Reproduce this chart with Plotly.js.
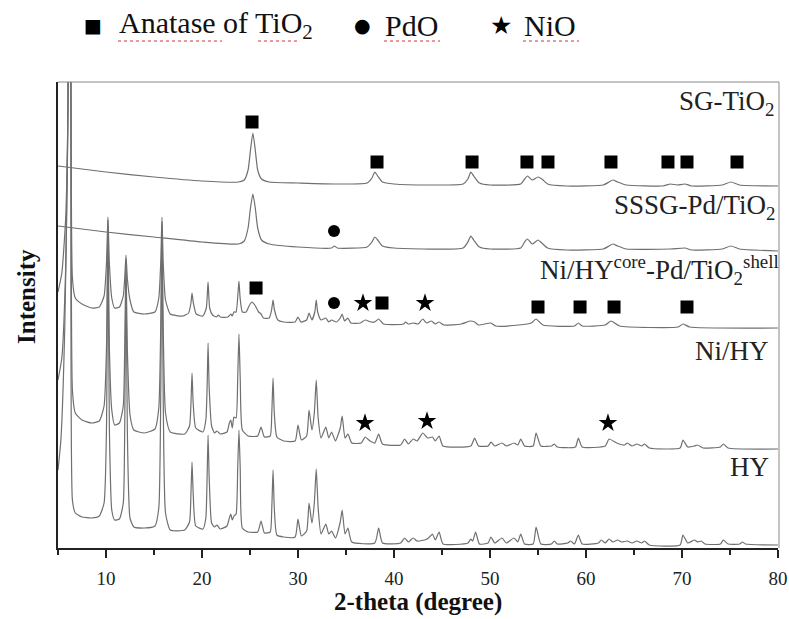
<!DOCTYPE html>
<html>
<head>
<meta charset="utf-8">
<script src="https://cdn.plot.ly/plotly-3.0.1.min.js"></script>
<style>html,body{margin:0;padding:0;background:#fff;}#chart{width:789px;height:619px;}</style>
</head>
<body>
<div id="chart"></div>
<script>
// ---- Data: 2-theta (degree) and intensity (a.u., stacked offsets) ----
const sgX = [5,10,15,20,23.8,24.4,24.8,25.05,25.3,25.55,25.8,26.2,27,30,34,37.2,37.7,38.0,38.3,38.8,40,44,47.2,47.7,48.0,48.3,48.9,50,53.2,53.6,53.9,54.4,55.0,55.4,56,58,61.8,62.4,62.8,63.3,64.2,68,68.8,69.5,70.3,71,74.2,75.1,76,80];
const sgY = [382,376,371,367,366,368,378,398,415,398,378,369,366,365,364,365,370,376,372,366,364,363,364,369,376,372,365,363,364,369,372,368,371,369,364,362,363,366,368,366,363,362,364,363,364,362,363,366,363,362];

const sssgX = [5,10,15,20,23.8,24.4,24.8,25.05,25.3,25.55,25.8,26.2,27,30,33.5,33.8,34.1,37.2,37.7,38.0,38.3,38.8,40,47.2,47.7,48.0,48.3,48.9,50,53.2,53.6,53.9,54.4,55.0,55.4,56,58,61.8,62.4,62.8,63.3,64.2,68.8,70.3,71,74.2,75.1,76,80];
const sssgY = [322,316,311,306,304,307,320,340,354,340,320,308,304,301,300,302,300,301,306,311,308,302,300,300,306,312,308,301,299,300,306,309,304,308,305,300,298,299,302,304,302,299,299,300,298,299,302,299,297];

const coreX = [5,5.4,5.8,6.05,6.2,6.35,6.5,6.8,7.5,8.5,9.3,9.8,10.05,10.2,10.35,10.6,10.9,11.4,11.8,11.95,12.08,12.22,12.5,12.9,14,15.1,15.5,15.7,15.83,15.96,16.2,16.7,18,18.6,18.85,18.96,19.1,19.4,20.1,20.45,20.63,20.8,21.1,21.5,21.7,21.9,22.7,23.0,23.15,23.33,23.55,23.75,23.85,23.97,24.2,24.6,24.9,25.2,25.5,25.9,26.15,26.4,27.0,27.25,27.4,27.55,27.9,28.5,29.7,30.0,30.3,30.9,31.15,31.45,31.75,31.9,32.05,32.4,32.9,33.2,33.5,34.0,34.4,34.6,34.85,35.2,35.5,36.5,37.0,37.6,38.0,38.4,38.9,41,41.2,41.5,42,42.5,43.0,43.4,43.9,44.3,44.7,45.2,47.0,47.6,47.9,48.4,48.8,50.1,50.6,53,54.3,54.8,55.5,58.8,59.2,59.6,62.0,62.6,63.5,69.6,70.1,70.8,80];
const coreY = [256,275,330,450,800,450,270,250,244,240,241,252,285,331,285,250,240,241,252,270,293,270,248,236,234,236,250,285,331,285,248,234,232,235,245,255,245,234,232,240,266,240,233,231,233,231,231,234,232,236,236,255,267,250,236,236,242,246,243,236,234,230,230,238,248,238,228,226,226,231,226,228,235,228,236,248,236,228,230,226,228,226,230,234,227,230,225,225,228,226,226,229,224,224,226,224,225,224,229,225,227,224,226,223,224,226,227,226,223,225,222,223,225,229,223,222,225,222,223,227,222,221,224,221,220];

const nihyX = [5,5.4,5.8,6.05,6.2,6.35,6.5,6.8,7.5,8.5,9.3,9.8,10.05,10.2,10.35,10.6,10.9,11.4,11.8,11.95,12.08,12.22,12.5,12.9,14,15.1,15.5,15.7,15.83,15.96,16.2,16.7,18.2,18.7,18.85,18.96,19.08,19.35,20.1,20.4,20.53,20.63,20.75,21.0,21.3,21.56,21.9,22.6,22.85,23.0,23.15,23.33,23.55,23.72,23.85,23.98,24.2,24.8,25.8,26.15,26.5,27.1,27.27,27.4,27.53,27.8,28.5,29.7,30.0,30.35,30.9,31.15,31.45,31.7,31.9,32.1,32.4,32.9,33.2,33.5,33.9,34.4,34.6,34.9,35.2,35.6,36.6,37.0,37.5,38.0,38.4,38.8,40.7,41.1,41.5,42.0,42.4,43.0,43.5,44.0,44.3,44.7,45.1,48.0,48.4,48.8,49.8,50.1,50.5,51.25,51.7,52.5,52.9,53.2,53.6,54.5,54.8,55.3,56.4,56.7,57.0,58.9,59.2,59.6,62.0,62.4,63.2,64.0,64.3,64.8,65.3,65.8,66.1,66.6,69.8,70.1,70.6,71.3,71.6,72.2,74.0,74.3,74.8,80];
const nihyY = [168,190,280,450,800,450,158,135,128,125,127,142,200,328,200,138,123,125,142,200,288,200,133,118,115,119,140,220,326,220,135,116,114,122,145,175,145,120,116,128,160,205,160,122,115,117,114,116,125,128,120,131,130,170,214,170,118,112,112,121,111,112,135,170,135,111,107,107,123,108,112,138,118,135,168,130,110,121,110,116,107,120,132,110,114,105,105,111,107,105,114,104,103,109,104,109,107,115,110,111,107,112,102,102,110,102,102,106,102,105,102,105,103,109,102,102,115,102,102,104,101,101,110,101,102,109,105,103,105,102,104,102,104,100,100,108,101,102,103,100,101,104,100,99];

const hyX = [5,5.3,5.7,6.0,6.2,6.35,6.5,6.8,7.5,8.5,9.3,9.8,10.05,10.2,10.35,10.6,10.9,11.4,11.8,11.95,12.08,12.22,12.5,12.9,14,15.1,15.5,15.7,15.83,15.96,16.2,16.7,18.2,18.7,18.85,18.96,19.08,19.35,20.1,20.4,20.53,20.63,20.75,21.0,21.3,21.56,21.9,22.6,22.85,23.0,23.15,23.33,23.55,23.72,23.85,23.98,24.2,24.8,25.8,26.15,26.5,27.1,27.27,27.4,27.53,27.8,28.5,29.7,30.0,30.35,30.9,31.15,31.45,31.7,31.9,32.1,32.4,32.9,33.2,33.5,33.9,34.4,34.6,34.9,35.2,35.6,38.0,38.4,38.8,40.7,41.1,41.5,42.0,42.4,43.2,43.6,44.0,44.3,44.7,45.1,47.7,48.0,48.2,48.5,48.9,49.8,50.1,50.5,51.25,51.7,52.5,52.9,53.2,53.6,54.5,54.8,55.3,56.4,56.7,57.0,58.1,58.4,58.8,59.2,59.6,61.3,61.6,62.0,62.4,62.8,63.3,63.7,64.3,64.8,65.3,65.8,66.1,66.6,69.8,70.1,70.6,71.3,71.6,72.0,72.4,74.0,74.3,74.8,76.0,76.3,76.6,80];
const hyY = [78,108,218,400,800,450,48,35,31,30,32,45,120,322,120,38,28,29,45,120,286,120,30,21,20,22,40,150,322,150,35,18,18,26,55,86,55,22,19,30,70,113,70,25,21,23,19,22,30,34,28,32,34,80,118,80,20,16,16,27,15,16,40,78,40,13,11,11,29,12,17,45,25,45,79,40,14,24,14,17,10,26,38,14,20,6,5,20,5,5,10,6,10,7,8,10,14,8,16,4,5,9,7,16,4,5,11,5,10,5,10,6,14,4,4,21,4,4,7,4,5,7,4,13,4,5,8,5,9,6,8,6,7,5,7,5,7,3,3,13,5,8,6,7,4,4,8,4,4,6,4,3];

// Phase markers (peak positions) and the heights at which they are drawn
const anataseX = [25.21,38.23,48.13,53.85,56.04,62.6,68.54,70.52,75.73,25.63,38.75,55.0,59.38,62.92,70.52];
const anataseY = [426,386,386,386,386,386,386,386,386,260,245,241,241,241,241];
const pdoX = [33.75,33.75];
const pdoY = [317,245];
const nioX = [36.77,43.23,36.98,43.44,62.29];
const nioY = [245,245,125,127,125];

// Sample labels
const sampleLabels = ["SG-TiO<sub>2</sub>","SSSG-Pd/TiO<sub>2</sub>","Ni/HY<sup>core</sup>-Pd/TiO<sub>2</sub><sup>shell</sup>","Ni/HY","HY"];
const labelY = [445,341,278,197,81];
const labelXpx = [777,778,781,771,771];

const legendNames = ["Anatase of TiO<sub>2</sub>","PdO","NiO"];
const legendGlyphs = ["\u25A0","\u25CF","\u2605"];

const lineStyle = {color:'#6f6f6f', width:1.2, shape:'spline', smoothing:0.5};
const traces = [
  {x:sgX, y:sgY}, {x:sssgX, y:sssgY}, {x:coreX, y:coreY}, {x:nihyX, y:nihyY}, {x:hyX, y:hyY}
].map(d => ({x:d.x, y:d.y, type:'scatter', mode:'lines', line:lineStyle, hoverinfo:'skip'}));

traces.push({x:anataseX, y:anataseY, type:'scatter', mode:'markers', marker:{symbol:'square', size:13, color:'#000'}, cliponaxis:false});
traces.push({x:pdoX, y:pdoY, type:'scatter', mode:'markers', marker:{symbol:'circle', size:12, color:'#000'}, cliponaxis:false});
traces.push({x:nioX, y:nioY, type:'scatter', mode:'markers', marker:{symbol:'star', size:14, color:'#000'}, cliponaxis:false});

const L = 58, W = 720, T = 82, H = 466;
const px = v => (v - L) / W;
const py = v => (T + H - v) / H;

const serif = 'Liberation Serif, Times New Roman, serif';
const annotations = [];
sampleLabels.forEach((t,i) => annotations.push({
  x:px(labelXpx[i]), y:labelY[i], xref:'paper', yref:'y', text:t, showarrow:false,
  xanchor:'right', yanchor:'middle', font:{family:serif, size:27, color:'#222'}
}));
// axis titles
annotations.push({x:px(418), y:py(602), xref:'paper', yref:'paper', text:'<b>2-theta (degree)</b>', showarrow:false,
  xanchor:'center', yanchor:'middle', font:{family:serif, size:25, color:'#111'}});
annotations.push({x:px(26), y:py(297), xref:'paper', yref:'paper', text:'<b>Intensity</b>', showarrow:false, textangle:-90,
  xanchor:'center', yanchor:'middle', font:{family:serif, size:25, color:'#111'}});
// legend row
const glyphXpx = [93, 362, 501];
const nameXpx = [117, 383, 522];
const glyphSize = [19, 19, 25];
legendNames.forEach((t,i) => {
  annotations.push({x:px(glyphXpx[i]), y:py(25), xref:'paper', yref:'paper', text:legendGlyphs[i], showarrow:false,
    xanchor:'center', yanchor:'middle', font:{family:'DejaVu Sans', size:glyphSize[i], color:'#000'}});
  annotations.push({x:px(nameXpx[i]), y:py(25), xref:'paper', yref:'paper', text:t, showarrow:false,
    xanchor:'left', yanchor:'middle', font:{family:serif, size:30, color:'#111'}});
});

// spell-check style underlines below the legend words
const underl = [[118,222],[258,300],[384,440],[523,579]];
const shapes = [
  {type:'line', xref:'paper', yref:'paper', x0:0, x1:px(779), y0:1, y1:1, line:{color:'#888', width:1}},
  {type:'line', xref:'paper', yref:'paper', x0:px(779), x1:px(779), y0:0, y1:1, line:{color:'#888', width:1}}
];
underl.forEach(u => shapes.push({type:'line', xref:'paper', yref:'paper', x0:px(u[0]), x1:px(u[1]), y0:py(41), y1:py(41),
  line:{color:'#e07a7a', width:1.5, dash:'dot'}}));

const layout = {
  width:789, height:619,
  margin:{l:L, r:789-L-W, t:T, b:619-T-H},
  paper_bgcolor:'#fff', plot_bgcolor:'#fff',
  showlegend:false,
  xaxis:{range:[5,80], showgrid:false, zeroline:false, showline:true, linecolor:'#222', linewidth:2,
    ticks:'outside', ticklen:8, tickwidth:2, tickcolor:'#222', dtick:10, tick0:0,
    minor:{ticks:'outside', ticklen:5, tickwidth:1.5, tickcolor:'#222', dtick:5, tick0:0},
    tickfont:{family:serif, size:19, color:'#222'}, ticklabelstandoff:4},
  yaxis:{range:[0,466], showgrid:false, zeroline:false, showline:true, linecolor:'#222', linewidth:2,
    ticks:'', showticklabels:false},
  shapes:shapes,
  annotations:annotations
};

Plotly.newPlot('chart', traces, layout, {staticPlot:true});
</script>
</body>
</html>
